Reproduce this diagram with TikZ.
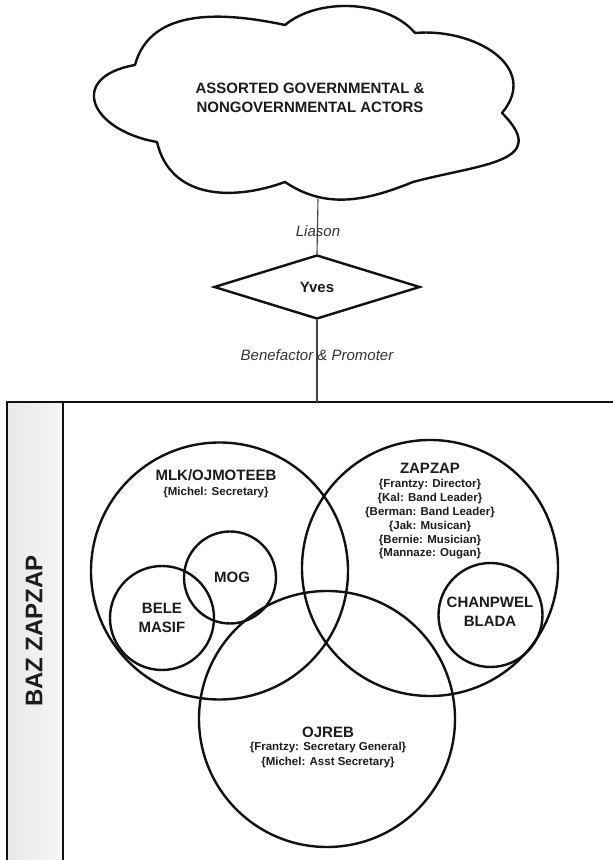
\documentclass[tikz,border=0pt]{standalone}
\usepackage{fontspec}
\setmainfont{Liberation Sans}
\usetikzlibrary{shapes.geometric}
\definecolor{ink}{HTML}{111111}
\definecolor{txt}{HTML}{1C1C1C}
\begin{document}
\begin{tikzpicture}[x=1pt,y=1pt,
  ring/.style={draw=ink, line width=2.4pt},
  big/.style={font=\fontsize{15}{19}\selectfont\bfseries, text=txt, align=center, inner sep=0pt},
  small/.style={font=\fontsize{11.5}{14}\selectfont\bfseries, text=txt, align=center, inner sep=0pt},
  lab/.style={font=\fontsize{15}{18}\selectfont\itshape, text=txt!90, inner sep=0pt},
  conn/.style={draw=ink!80, line width=1.1pt}]
\useasboundingbox (0,0) rectangle (613,860);
\clip (0,0) rectangle (613,860);
\fill[white] (0,0) rectangle (613,860);
% panel
\shade[left color=gray!18, right color=gray!7] (7,-20) rectangle (63,458);
\draw[ink, line width=2.2pt] (7,-20) rectangle (640,458);
\draw[ink, line width=2.2pt] (63,-20) -- (63,458);
\node[font=\fontsize{24}{28}\selectfont\bfseries, text=txt, rotate=90, inner sep=0pt] (baz) at (34,229) {BAZ ZAPZAP};
% cloud
\draw[ring, line join=round] (135,795) to[out=75,in=168] (285,835)
  to[out=40,in=130,looseness=0.85] (415,827)
  to[out=5,in=50,looseness=1.3] (502,747)
  to[out=-45,in=15,looseness=1.6] (413,678)
  to[out=202,in=-34] (285,678)
  to[out=200,in=-77,looseness=1.1] (157,718)
  to[out=170,in=190,looseness=2.2] (135,795) -- cycle;
\node[big] (cloudtext) at (310,762.5) {ASSORTED GOVERNMENTAL \&\\NONGOVERNMENTAL ACTORS};
\coordinate (cloudb) at (318,661);
% diamond
\node[diamond, draw=ink, line width=2.4pt, minimum width=206pt, minimum height=64pt, big] (yves) at (317,573) {Yves};
\coordinate (paneltop) at (317,458);
\draw[conn] (cloudb) -- (yves.north);
\draw[conn] (yves.south) -- (paneltop);
\node[lab] (liason) at (318,629) {Liason};
\node[lab] (benef) at (317,505) {Benefactor \& Promoter};
% circles
\node[circle, ring, minimum size=257pt, inner sep=0pt] (mlk) at (219.5,289) {};
\node[circle, ring, minimum size=256pt, inner sep=0pt] (zap) at (430,292) {};
\node[circle, ring, minimum size=256pt, inner sep=0pt] (ojreb) at (327,141) {};
\node[circle, ring, minimum size=92pt, inner sep=0pt] (mog) at (230,282.5) {};
\node[circle, ring, minimum size=104pt, inner sep=0pt] (bele) at (162,242) {};
\node[circle, ring, minimum size=104pt, inner sep=0pt] (chan) at (490.5,245) {};
% labels
\node[big] (mlkT) at (216,385) {MLK/OJMOTEEB};
\node[small] (mlkD) at (216,367) {\{Michel: Secretary\}};
\node[big] (zapT) at (430,392) {ZAPZAP};
\node[small, font=\fontsize{11.5}{13.8}\selectfont\bfseries] (zapD) at (430,340.5) {\{Frantzy: Director\}\\\{Kal: Band Leader\}\\\{Berman: Band Leader\}\\\{Jak: Musican\}\\\{Bernie: Musician\}\\\{Mannaze: Ougan\}};
\node[big] (ojrebT) at (328,128) {OJREB};
\node[small, font=\fontsize{11.5}{15}\selectfont\bfseries] (ojrebD) at (328,104.5) {\{Frantzy: Secretary General\}\\\{Michel: Asst Secretary\}};
\node[big] (mogT) at (232,283) {MOG};
\node[big] (beleT) at (162,242.5) {BELE\\MASIF};
\node[big, font=\fontsize{15}{18.5}\selectfont\bfseries] (chanT) at (490,248) {CHANPWEL\\BLADA};
\end{tikzpicture}
\end{document}
